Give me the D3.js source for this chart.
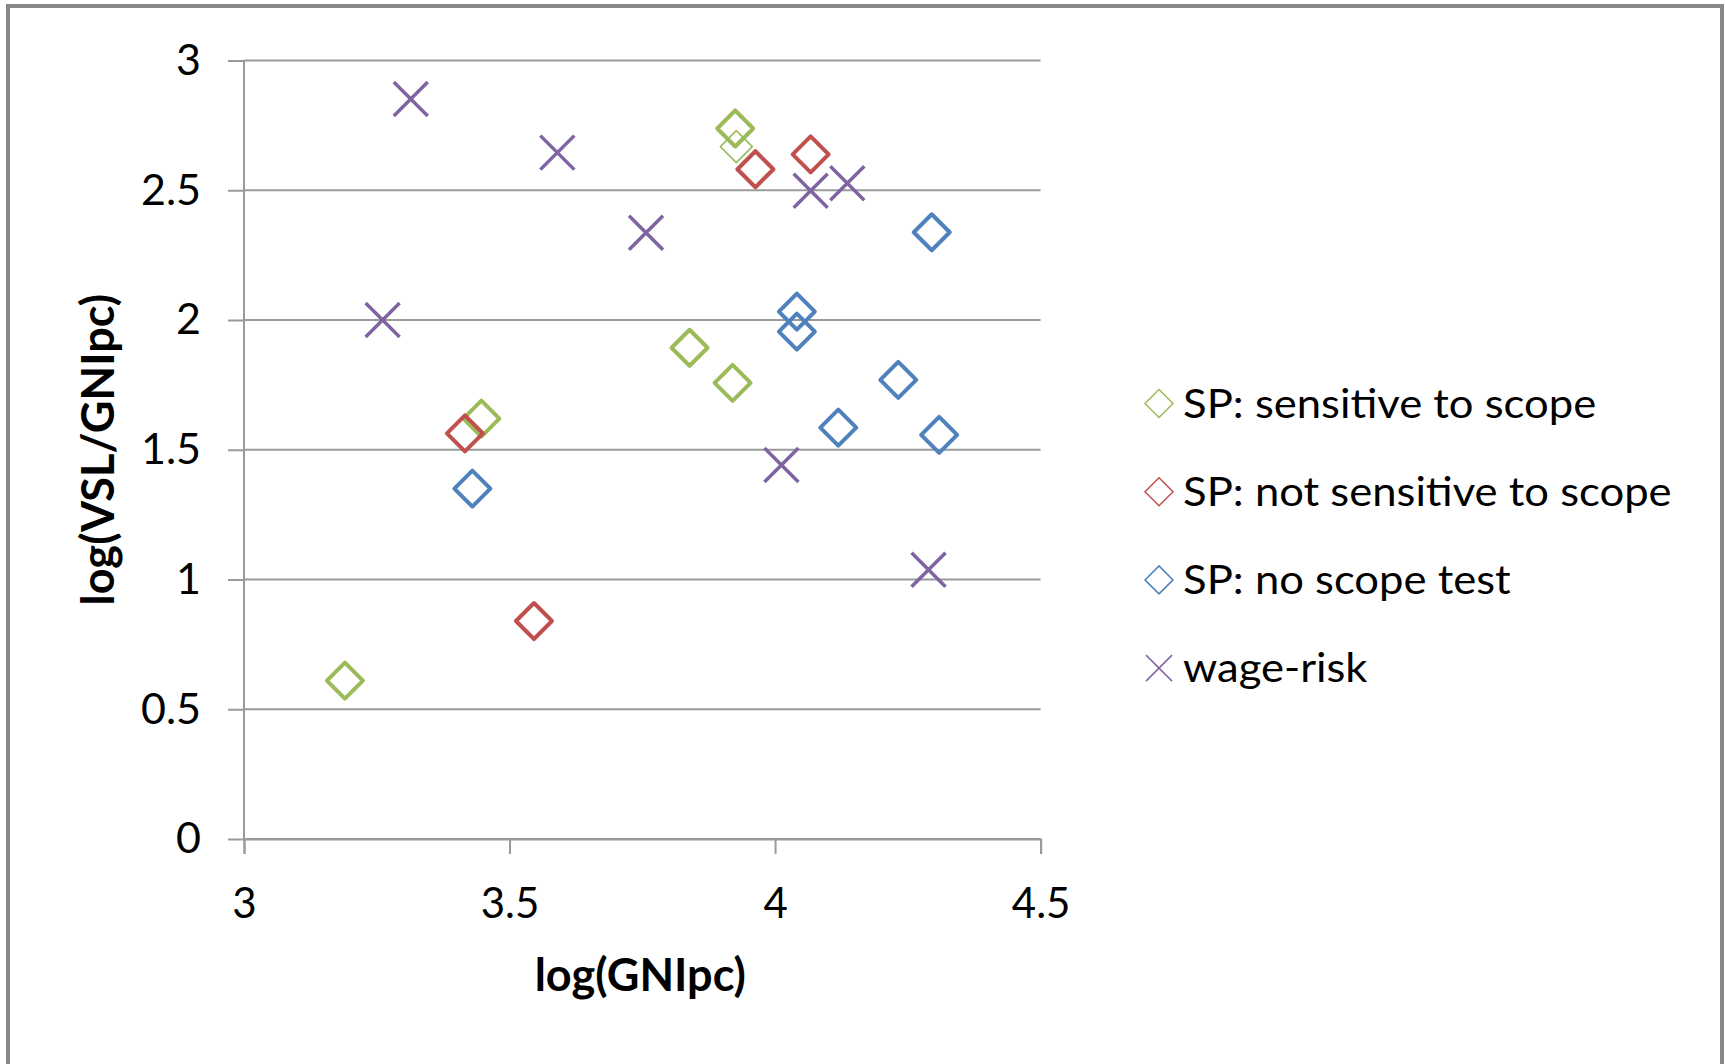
<!doctype html>
<html>
<head>
<script src="https://d3js.org/d3.v7.min.js"></script>
<style>
  body { margin: 0; background: #fff; }
  text { font-family: Lato, "Open Sans", sans-serif; fill: #000; }
</style>
</head>
<body>
<svg width="1725" height="1064" id="chart"></svg>
<script>
// data: [log(GNIpc), log(VSL/GNIpc)]
var sensitive = [[3.19, 0.61], [3.447, 1.62], [3.839, 1.893], [3.92, 1.758], [3.925, 2.738]];
var sensitiveFaint = [[3.927, 2.668]];
var notSensitive = [[3.416, 1.563], [3.546, 0.84], [3.963, 2.581], [4.067, 2.638]];
var noScope = [[3.43, 1.35], [4.041, 2.032], [4.041, 1.955], [4.119, 1.585], [4.232, 1.769], [4.295, 2.338], [4.309, 1.557]];
var wageRisk = [[3.261, 2.0], [3.314, 2.852], [3.59, 2.645], [3.757, 2.336], [4.012, 1.441], [4.067, 2.498], [4.136, 2.527], [4.289, 1.038]];

var xTicks = [3, 3.5, 4, 4.5];
var yTicks = [0, 0.5, 1, 1.5, 2, 2.5, 3];
var legendLabels = ["SP: sensitive to scope", "SP: not sensitive to scope", "SP: no scope test", "wage-risk"];

var colors = ["#9BBB59", "#C0504D", "#4F81BD", "#8064A2"];

var svg = d3.select("#chart");

// outer frame
svg.append("rect")
  .attr("x", 8).attr("y", 6)
  .attr("width", 1714).attr("height", 1060)
  .attr("fill", "none")
  .attr("stroke", "#878787")
  .attr("stroke-width", 4);

var xScale = d3.scaleLinear().domain([3, 4.5]).range([244, 1040.6]),
    yScale = d3.scaleLinear().domain([0, 3]).range([839, 60.5]);

// y axis ticks + labels
var yAxis = d3.axisLeft(yScale)
  .tickValues(yTicks)
  .tickSize(16)
  .tickPadding(27)
  .tickFormat(d3.format("~g"));

var gy = svg.append("g")
  .attr("transform", "translate(244,0)")
  .call(yAxis);
gy.select(".domain").remove();
gy.selectAll(".tick line").attr("stroke", "#9a9a9a").attr("stroke-width", 2);
gy.selectAll(".tick text").style("font-size", "43px").attr("fill", "#111");

// gridlines
svg.append("g").selectAll("line")
  .data(yTicks)
  .enter().append("line")
  .attr("x1", xScale(3)).attr("x2", xScale(4.5))
  .attr("y1", function (d) { return yScale(d); })
  .attr("y2", function (d) { return yScale(d); })
  .attr("stroke", "#9a9a9a")
  .attr("stroke-width", 2);

svg.append("line")
  .attr("x1", xScale(3)).attr("x2", xScale(3))
  .attr("y1", yScale(0)).attr("y2", yScale(3))
  .attr("stroke", "#9a9a9a").attr("stroke-width", 2);

// x axis
var gx = svg.append("g")
  .attr("transform", "translate(0," + yScale(0) + ")")
  .call(d3.axisBottom(xScale).tickValues(xTicks).tickSize(15).tickPadding(34).tickFormat(d3.format("~g")));
gx.select(".domain").attr("stroke", "#9a9a9a").attr("stroke-width", 2);
gx.selectAll(".tick line").attr("stroke", "#9a9a9a").attr("stroke-width", 2);
gx.selectAll(".tick text").style("font-size", "42px").attr("fill", "#111");

// axis titles
svg.append("text")
  .attr("x", (xScale(3) + xScale(4.5)) / 2 - 2)
  .attr("y", 991)
  .attr("text-anchor", "middle")
  .style("font-weight", "bold")
  .style("font-size", "45px")
  .text("log(GNIpc)");

svg.append("text")
  .attr("text-anchor", "middle")
  .attr("transform", "translate(114," + (yScale(0) + yScale(3)) / 2 + ")rotate(-90)")
  .style("font-weight", "bold")
  .style("font-size", "45px")
  .text("log(VSL/GNIpc)");

// marker paths
function diamond(r) { return "M0," + (-r) + "L" + r + ",0L0," + r + "L" + (-r) + ",0Z"; }
function cross(r) { return "M" + (-r) + "," + (-r) + "L" + r + "," + r + "M" + (-r) + "," + r + "L" + r + "," + (-r); }

function drawSeries(data, color, shape, width) {
  svg.append("g").selectAll("path")
    .data(data)
    .enter().append("path")
    .attr("transform", function (d) { return "translate(" + xScale(d[0]) + "," + yScale(d[1]) + ")"; })
    .attr("d", shape)
    .attr("fill", "none")
    .attr("stroke", color)
    .attr("stroke-width", width)
    .attr("stroke-linejoin", "round");
}

drawSeries(sensitive, colors[0], diamond(18), 4);
drawSeries(sensitiveFaint, colors[0], diamond(16), 1.5);
drawSeries(notSensitive, colors[1], diamond(18), 4);
drawSeries(noScope, colors[2], diamond(18), 4);
drawSeries(wageRisk, colors[3], cross(17), 3.5);

// legend
var legend = svg.append("g").attr("transform", "translate(1159,403.5)");
var rows = legend.selectAll("g")
  .data(legendLabels)
  .enter().append("g")
  .attr("transform", function (d, i) { return "translate(0," + i * 88.2 + ")"; });

rows.append("path")
  .attr("d", function (d, i) { return i < 3 ? diamond(14) : cross(13); })
  .attr("fill", "none")
  .attr("stroke", function (d, i) { return colors[i]; })
  .attr("stroke-width", 1.5);

// the original legend type is a little wider than Lato, so stretch it a bit
rows.append("text")
  .attr("transform", "translate(24,14)scale(1.09,1)")
  .style("font-size", "40px")
  .text(function (d) { return d; });
</script>
</body>
</html>
